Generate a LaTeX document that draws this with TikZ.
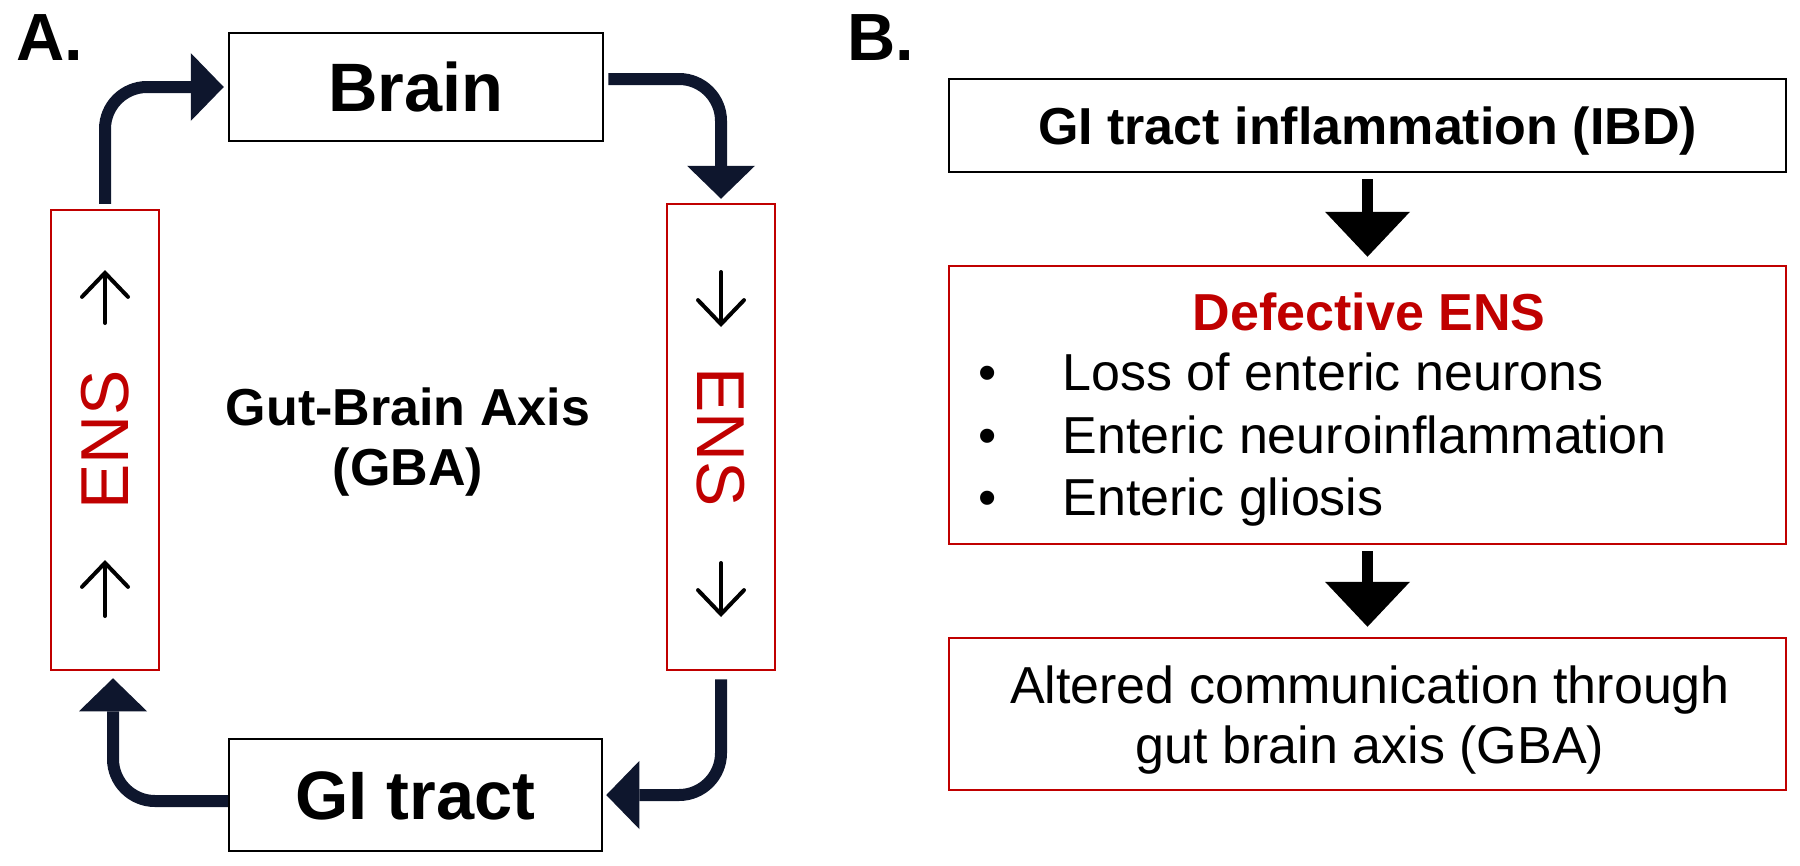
\documentclass[tikz,border=0pt]{standalone}
\usepackage{fontspec}
\setmainfont{Liberation Sans}
\usetikzlibrary{arrows.meta}
\definecolor{emphred}{RGB}{192,0,0}
\definecolor{axisnavy}{RGB}{14,22,45}
\newcommand{\panelfont}{\fontsize{19pt}{22pt}\selectfont\bfseries}
\newcommand{\boxbold}{\fontsize{19.5pt}{23pt}\selectfont\bfseries}
\newcommand{\ensfont}{\fontsize{19.3pt}{23pt}\selectfont}
\newcommand{\flowfont}{\fontsize{14.8pt}{17pt}\selectfont}
\newcommand{\flowbold}{\flowfont\bfseries}

\begin{document}
\begin{tikzpicture}[x=0.1mm,y=-0.1mm,
  box/.style={draw=black,line width=0.25mm,inner sep=0pt,text height=4.9mm,text depth=0pt},
  redbox/.style={draw=emphred,line width=0.25mm,inner sep=0pt},
  ensword/.style={text=emphred,font=\ensfont,inner sep=0pt},
  bulletitem/.style={anchor=base west,inner sep=0pt,font=\flowfont,
    execute at begin node={\llap{\textbullet\hspace{6.6mm}}}},
  cyclearrow/.style={draw=axisnavy,line width=1.2mm,rounded corners=4.2mm,
    -{Triangle[width=6.8mm,length=3.3mm,line width=0pt]}},
  flowarrow/.style={draw=black,line width=1.1mm,
    -{Triangle[width=8.5mm,length=4.5mm,line width=0pt]}},
  smallarrow/.style={line width=0.4mm,line cap=round,
    -{Straight Barb[length=2.4mm,width=4.6mm,line cap=round]}}]
  \useasboundingbox (0,0) rectangle (1800,865);
  % A. gut-brain loop
  \node[anchor=base west,inner sep=0pt,font=\panelfont] (labA) at (16,60) {A.};
  \node[box,minimum width=37.4mm,minimum height=10.8mm,font=\boxbold] (brain) at (416,87) {Brain};
  \node[box,minimum width=37.3mm,minimum height=11.2mm,font=\boxbold] (gi) at (415.5,795) {GI tract};
  \node[redbox,minimum width=10.8mm,minimum height=46mm] (ensL) at (105,440) {};
  \node[redbox,minimum width=10.8mm,minimum height=46.6mm] (ensR) at (721,437) {};
  \node[ensword,rotate=90] (ensLword) at (ensL) {ENS};
  \node[ensword,rotate=-90] (ensRword) at (ensR) {ENS};
  \draw[smallarrow] (105,323) -- (105,270);
  \draw[smallarrow] (105,616) -- (105,560);
  \draw[smallarrow] (721,272) -- (721,327);
  \draw[smallarrow] (721,563) -- (721,617);
  \draw[cyclearrow,shorten <=0.5mm,shorten >=0.4mm] (ensL.north) |- (brain.west);
  \draw[cyclearrow,shorten <=0.4mm,shorten >=0.4mm] ([yshift=0.8mm]brain.east) -| (ensR.north);
  \draw[cyclearrow,shorten <=0.8mm,shorten >=0.3mm] (ensR.south) |- (gi.east);
  \draw[cyclearrow,shorten >=0.7mm] ([yshift=-0.6mm]gi.west) -| ([xshift=0.8mm]ensL.south);
  \node[anchor=base,font=\flowbold] (gba) at (408,425) {Gut-Brain Axis};
  \node[anchor=base,font=\flowbold] (gbashort) at (408,485) {(GBA)};
  % B. inflammation chain
  \node[anchor=base west,inner sep=0pt,font=\panelfont] (labB) at (847,60) {B.};
  \node[box,minimum width=83.7mm,minimum height=9.3mm,text height=3.7mm,font=\flowbold] (inflam) at (1367.5,125.5) {GI tract inflammation (IBD)};
  \node[redbox,minimum width=83.7mm,minimum height=27.8mm] (defect) at (1367.5,405) {};
  \node[anchor=base,text=emphred,font=\flowbold] (defecttitle) at (1369,330) {Defective ENS};
  \node[bulletitem] (loss) at (1062,390) {Loss of enteric neurons};
  \node[bulletitem] (neuro) at (1062,453) {Enteric neuroinflammation};
  \node[bulletitem] (glio) at (1062,515) {Enteric gliosis};
  \node[redbox,minimum width=83.7mm,minimum height=15.2mm] (altered) at (1367.5,714) {};
  \node[anchor=base,font=\flowfont] (alteredtop) at (1370,703) {Altered communication through};
  \node[anchor=base,font=\flowfont] (alteredbot) at (1370,763) {gut brain axis (GBA)};
  \draw[flowarrow,shorten <=0.6mm,shorten >=0.8mm] (inflam) -- (defect);
  \draw[flowarrow,shorten <=0.6mm,shorten >=1mm] (defect) -- (altered);
\end{tikzpicture}
\end{document}
